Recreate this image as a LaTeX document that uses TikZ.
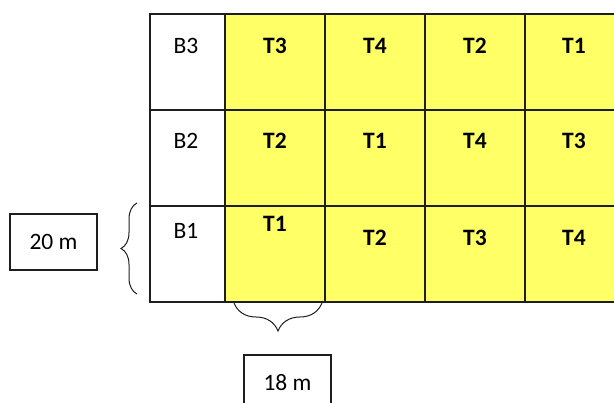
\documentclass[tikz,border=0pt]{standalone}
\usepackage{fontspec}
\setmainfont{Carlito}
\usetikzlibrary{decorations.pathreplacing}

\definecolor{plotyellow}{RGB}{255,255,102}
\definecolor{gridline}{RGB}{30,30,30}

\begin{document}
\begin{tikzpicture}[x=1pt, y=1pt,
  label/.style={font=\fontsize{23.5}{27}\selectfont},
  trt/.style={font=\fontsize{23.5}{27}\selectfont\bfseries},
  sizebox/.style={draw=gridline, line width=1.3pt, minimum width=87pt, minimum height=56pt, inner sep=0pt, font=\fontsize{23.5}{27}\selectfont}]
\useasboundingbox (0,0) rectangle (614,403);
\clip (0,0) rectangle (614,403);
% Plots
\fill[plotyellow] (225,101) rectangle (625,389);
\draw[gridline, line width=1.3pt] (625,389) -- (150,389) -- (150,101) -- (625,101);
\foreach \x in {225,325,425,525} {
  \draw[gridline, line width=1.3pt] (\x,389) -- (\x,101);
}
\foreach \y in {293,197} {
  \draw[gridline, line width=1.3pt] (150,\y) -- (625,\y);
}
% Blocks
\node[label] (b3) at (186,357) {B3};
\node[label] (b2) at (186,262) {B2};
\node[label] (b1) at (186,172) {B1};
% Treatments
\node[trt] (r3c1) at (275,357) {T3};
\node[trt] (r3c2) at (375,357) {T4};
\node[trt] (r3c3) at (475,357) {T2};
\node[trt] (r3c4) at (574,357) {T1};
\node[trt] (r2c1) at (275,262) {T2};
\node[trt] (r2c2) at (375,262) {T1};
\node[trt] (r2c3) at (475,262) {T4};
\node[trt] (r2c4) at (574,262) {T3};
\node[trt] (r1c1) at (275,179) {T1};
\node[trt] (r1c2) at (375,165) {T2};
\node[trt] (r1c3) at (475,165) {T3};
\node[trt] (r1c4) at (574,165) {T4};
% Dimensions
\node[sizebox] (width) at (53.5,161) {20 m};
\node[sizebox] (length) at (287.5,20) {18 m};
\coordinate (wtop) at (137,200);
\coordinate (wbot) at (137,109);
\draw[gridline, line width=1pt, decorate, decoration={brace, amplitude=16pt}] (wbot) -- (wtop);
\coordinate (lleft) at (234,100);
\coordinate (lright) at (322,100);
\draw[gridline, line width=1pt, decorate, decoration={brace, amplitude=28pt}] (lright) -- (lleft);
\end{tikzpicture}
\end{document}
